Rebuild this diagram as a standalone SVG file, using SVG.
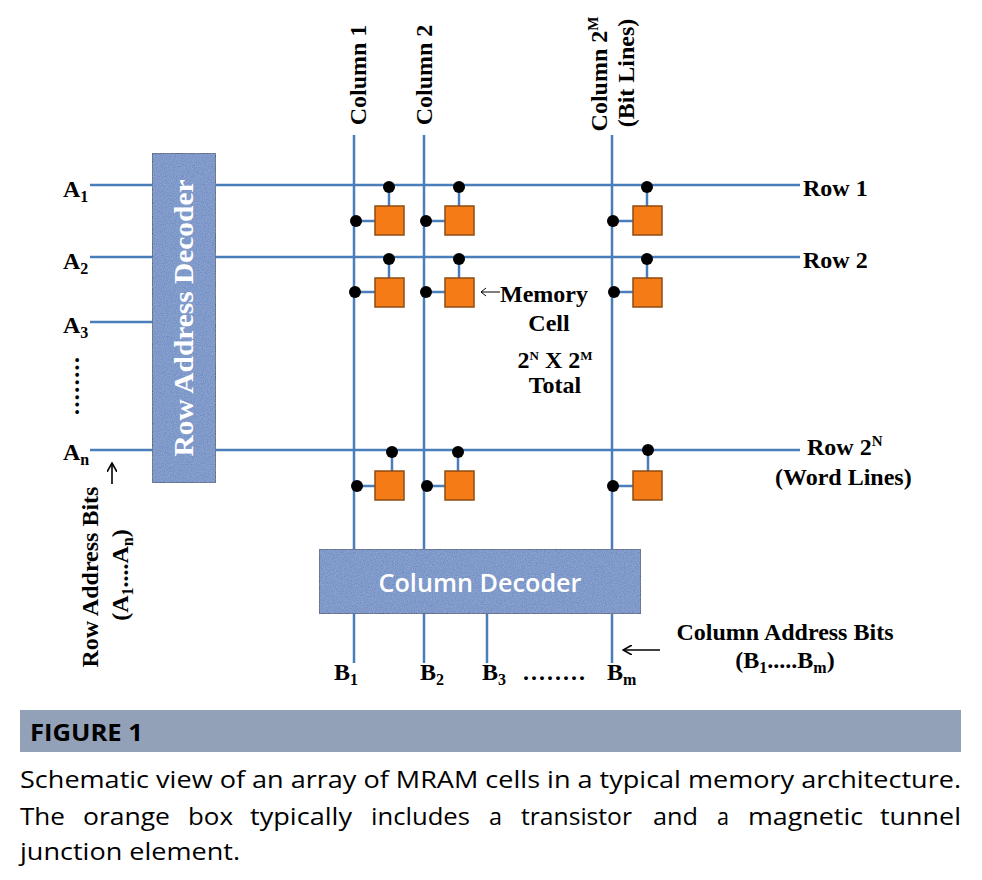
<svg xmlns="http://www.w3.org/2000/svg" width="982" height="880" viewBox="0 0 982 880">
<style>
.ln{stroke:#4a7ebb;stroke-width:2.5;fill:none}
.cell{fill:#f47b16;stroke:#8e4c12;stroke-width:1.5}
.dot{fill:#000}
.dec{fill:#5b83c1;stroke:#34507e;stroke-width:2}
.lb{font-family:"Liberation Serif",serif;font-weight:bold;font-size:24px;fill:#000}
.sub{font-size:16px}
.wt{font-family:"Liberation Serif",serif;font-weight:bold;font-size:28px;fill:#fff}
.cap{font-family:"Open Sans","Noto Sans",sans-serif;font-size:24px;fill:#000}
.arr{stroke:#000;stroke-width:1.6;fill:none}
</style>
<defs>
<marker id="ah" markerWidth="10" markerHeight="10" refX="8" refY="5" orient="auto" markerUnits="userSpaceOnUse">
<path d="M0,0 L9,5 L0,10" fill="none" stroke="#000" stroke-width="1.6"/>
</marker>
<filter id="tex" x="0" y="0" width="1" height="1">
<feTurbulence type="fractalNoise" baseFrequency="0.9" numOctaves="2" seed="3" result="n"/>
<feColorMatrix in="n" type="matrix" values="0 0 0 0 1  0 0 0 0 1  0 0 0 0 1  0 0 0 0.25 0" result="w"/>
<feComposite in="w" in2="SourceGraphic" operator="in" result="wc"/>
<feMerge><feMergeNode in="SourceGraphic"/><feMergeNode in="wc"/></feMerge>
</filter>
</defs>

<g id="connectors">
<line class="ln" x1="90" y1="185" x2="800" y2="185"/>
<line class="ln" x1="90" y1="257" x2="800" y2="257"/>
<line class="ln" x1="90" y1="322" x2="152" y2="322"/>
<line class="ln" x1="90" y1="450" x2="800" y2="450"/>
<line class="ln" x1="354" y1="135" x2="354" y2="549"/>
<line class="ln" x1="424" y1="135" x2="424" y2="549"/>
<line class="ln" x1="612" y1="135" x2="612" y2="549"/>
<line class="ln" x1="354" y1="614" x2="354" y2="663"/>
<line class="ln" x1="424" y1="614" x2="424" y2="663"/>
<line class="ln" x1="487" y1="614" x2="487" y2="663"/>
<line class="ln" x1="612" y1="614" x2="612" y2="663"/>
</g>

<g id="row-decoder">
<rect class="dec" x="152" y="153" width="64" height="330" filter="url(#tex)"/>
<text class="wt" transform="translate(193,318) rotate(-90)" text-anchor="middle" textLength="277" lengthAdjust="spacingAndGlyphs">Row Address Decoder</text>
</g>

<g id="column-decoder">
<rect class="dec" x="319" y="549" width="322" height="65" filter="url(#tex)"/>
<text x="480" y="592" text-anchor="middle" font-family="'Open Sans','Noto Sans',sans-serif" font-weight="600" font-size="25" fill="#fff" textLength="203" lengthAdjust="spacingAndGlyphs">Column Decoder</text>
</g>

<g id="cells">
<g id="cell-r1-c1">
<line class="ln" x1="389" y1="185" x2="389" y2="206"/><line class="ln" x1="354" y1="221" x2="375" y2="221"/>
<rect class="cell" x="375" y="206" width="29" height="29"/><circle class="dot" cx="389" cy="187" r="6"/><circle class="dot" cx="356" cy="221" r="6"/>
</g>
<g id="cell-r1-c2">
<line class="ln" x1="459" y1="185" x2="459" y2="206"/><line class="ln" x1="424" y1="221" x2="445" y2="221"/>
<rect class="cell" x="445" y="206" width="29" height="29"/><circle class="dot" cx="459" cy="187" r="6"/><circle class="dot" cx="426" cy="221" r="6"/>
</g>
<g id="cell-r1-cm">
<line class="ln" x1="647" y1="185" x2="647" y2="206"/><line class="ln" x1="612" y1="221" x2="633" y2="221"/>
<rect class="cell" x="633" y="206" width="29" height="29"/><circle class="dot" cx="647" cy="187" r="6"/><circle class="dot" cx="613" cy="221" r="6"/>
</g>
<g id="cell-r2-c1">
<line class="ln" x1="389" y1="257" x2="389" y2="278"/><line class="ln" x1="354" y1="292" x2="375" y2="292"/>
<rect class="cell" x="375" y="278" width="29" height="29"/><circle class="dot" cx="389" cy="259" r="6"/><circle class="dot" cx="355" cy="292" r="6"/>
</g>
<g id="cell-r2-c2">
<line class="ln" x1="459" y1="257" x2="459" y2="278"/><line class="ln" x1="424" y1="292" x2="445" y2="292"/>
<rect class="cell" x="445" y="278" width="29" height="29"/><circle class="dot" cx="459" cy="259" r="6"/><circle class="dot" cx="426" cy="292" r="6"/>
</g>
<g id="cell-r2-cm">
<line class="ln" x1="647" y1="257" x2="647" y2="278"/><line class="ln" x1="612" y1="292" x2="633" y2="292"/>
<rect class="cell" x="633" y="278" width="29" height="29"/><circle class="dot" cx="647" cy="259" r="6"/><circle class="dot" cx="614" cy="292" r="6"/>
</g>
<g id="cell-rn-c1">
<line class="ln" x1="392" y1="450" x2="392" y2="471"/><line class="ln" x1="354" y1="486" x2="375" y2="486"/>
<rect class="cell" x="375" y="471" width="29" height="29"/><circle class="dot" cx="392" cy="452" r="6"/><circle class="dot" cx="357" cy="486" r="6"/>
</g>
<g id="cell-rn-c2">
<line class="ln" x1="458" y1="450" x2="458" y2="471"/><line class="ln" x1="424" y1="486" x2="445" y2="486"/>
<rect class="cell" x="445" y="471" width="29" height="29"/><circle class="dot" cx="458" cy="452" r="6"/><circle class="dot" cx="427" cy="486" r="6"/>
</g>
<g id="cell-rn-cm">
<line class="ln" x1="648" y1="450" x2="648" y2="471"/><line class="ln" x1="612" y1="486" x2="633" y2="486"/>
<rect class="cell" x="633" y="471" width="29" height="29"/><circle class="dot" cx="648" cy="450" r="6"/><circle class="dot" cx="613" cy="486" r="6"/>
</g>
</g>

<g id="row-labels">
<text class="lb" x="63" y="197">A<tspan class="sub" dy="5">1</tspan></text>
<text class="lb" x="63" y="269">A<tspan class="sub" dy="5">2</tspan></text>
<text class="lb" x="63" y="333">A<tspan class="sub" dy="5">3</tspan></text>
<text class="lb" transform="translate(79,386) rotate(-90)" text-anchor="middle" textLength="58" lengthAdjust="spacing">........</text>
<text class="lb" x="63" y="460">A<tspan class="sub" dy="5">n</tspan></text>
<line class="arr" x1="112" y1="484" x2="112" y2="464" marker-end="url(#ah)"/>
<text class="lb" transform="translate(98,577) rotate(-90)" text-anchor="middle">Row Address Bits</text>
<text class="lb" transform="translate(128,575) rotate(-90)" text-anchor="middle">(A<tspan class="sub" dy="5">1</tspan><tspan dy="-5">....A</tspan><tspan class="sub" dy="5">n</tspan><tspan dy="-5">)</tspan></text>
<text class="lb" x="803" y="196">Row 1</text>
<text class="lb" x="803" y="268">Row 2</text>
<text class="lb" x="807" y="455">Row 2<tspan font-size="15" dy="-9">N</tspan></text>
<text class="lb" x="775" y="485">(Word Lines)</text>
</g>

<g id="column-labels">
<text class="lb" transform="translate(366,75) rotate(-90)" text-anchor="middle">Column 1</text>
<text class="lb" transform="translate(432,75) rotate(-90)" text-anchor="middle">Column 2</text>
<text class="lb" transform="translate(607,74) rotate(-90)" text-anchor="middle">Column 2<tspan font-size="15" dy="-9">M</tspan></text>
<text class="lb" transform="translate(634,73) rotate(-90)" text-anchor="middle">(Bit Lines)</text>
<text class="lb" x="334" y="680">B<tspan class="sub" dy="5">1</tspan></text>
<text class="lb" x="420" y="680">B<tspan class="sub" dy="5">2</tspan></text>
<text class="lb" x="482" y="680">B<tspan class="sub" dy="5">3</tspan></text>
<text class="lb" x="523" y="680" textLength="62" lengthAdjust="spacing">........</text>
<text class="lb" x="607" y="680">B<tspan class="sub" dy="5">m</tspan></text>
<line class="arr" x1="660" y1="650" x2="624" y2="650" marker-end="url(#ah)"/>
<text class="lb" x="785" y="640" text-anchor="middle">Column Address Bits</text>
<text class="lb" x="785" y="668" text-anchor="middle">(B<tspan class="sub" dy="5">1</tspan><tspan dy="-5">.....B</tspan><tspan class="sub" dy="5">m</tspan><tspan dy="-5">)</tspan></text>
</g>

<g id="memory-cell-label">
<line x1="500" y1="292" x2="481" y2="292" stroke="#000" stroke-width="1"/>
<path d="M486,288 L481,292 L486,296" fill="none" stroke="#000" stroke-width="1"/>
<text class="lb" x="500" y="302">Memory</text>
<text class="lb" x="549" y="331" text-anchor="middle">Cell</text>
<text class="lb" x="555" y="368" text-anchor="middle" font-size="19">2<tspan font-size="13" dy="-8">N</tspan><tspan dy="8"> X 2</tspan><tspan font-size="13" dy="-8">M</tspan></text>
<text class="lb" x="555" y="393" text-anchor="middle" font-size="20">Total</text>
</g>

<g id="caption">
<rect x="20" y="710" width="941" height="42" fill="#93a1b8"/>
<text class="cap" x="30" y="741" font-weight="bold" textLength="113" lengthAdjust="spacingAndGlyphs">FIGURE 1</text>
<text class="cap" x="20" y="788" textLength="941" lengthAdjust="spacingAndGlyphs">Schematic view of an array of MRAM cells in a typical memory architecture.</text>
<g id="caption-line2">
<text class="cap" x="20" y="825" textLength="45" lengthAdjust="spacingAndGlyphs">The</text>
<text class="cap" x="83" y="825" textLength="87" lengthAdjust="spacingAndGlyphs">orange</text>
<text class="cap" x="188" y="825" textLength="45" lengthAdjust="spacingAndGlyphs">box</text>
<text class="cap" x="250" y="825" textLength="102" lengthAdjust="spacingAndGlyphs">typically</text>
<text class="cap" x="371" y="825" textLength="99" lengthAdjust="spacingAndGlyphs">includes</text>
<text class="cap" x="489" y="825" textLength="13" lengthAdjust="spacingAndGlyphs">a</text>
<text class="cap" x="521" y="825" textLength="111" lengthAdjust="spacingAndGlyphs">transistor</text>
<text class="cap" x="653" y="825" textLength="45" lengthAdjust="spacingAndGlyphs">and</text>
<text class="cap" x="717" y="825" textLength="12" lengthAdjust="spacingAndGlyphs">a</text>
<text class="cap" x="748" y="825" textLength="115" lengthAdjust="spacingAndGlyphs">magnetic</text>
<text class="cap" x="880" y="825" textLength="81" lengthAdjust="spacingAndGlyphs">tunnel</text>
</g>
<text class="cap" x="20" y="860" textLength="220" lengthAdjust="spacingAndGlyphs">junction element.</text>
</g>
</svg>
